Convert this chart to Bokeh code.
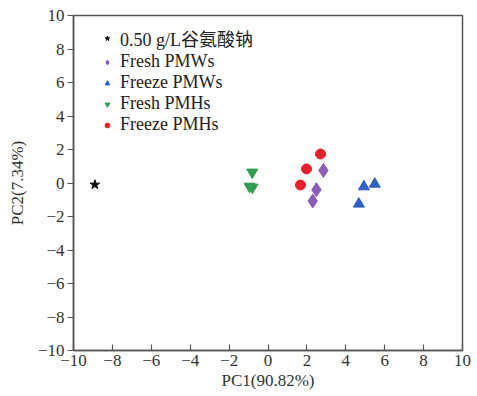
from bokeh.plotting import figure
from bokeh.models import FixedTicker, Range1d, Legend, LegendItem
from bokeh.embed import file_html
from bokeh.resources import INLINE

# Data
msg_x = [-8.9]
msg_y = [-0.1]
fresh_pmws_x = [2.85, 2.49, 2.30]
fresh_pmws_y = [0.75, -0.40, -1.07]
freeze_pmws_x = [4.93, 5.49, 4.67]
freeze_pmws_y = [-0.22, -0.06, -1.25]
fresh_pmhs_x = [-0.81, -0.95, -0.80]
fresh_pmhs_y = [0.64, -0.20, -0.26]
freeze_pmhs_x = [2.70, 1.98, 1.67]
freeze_pmhs_y = [1.73, 0.84, -0.12]

ticks = [-10, -8, -6, -4, -2, 0, 2, 4, 6, 8, 10]
tick_labels = {t: (("\u2212" + str(-t)) if t < 0 else str(t)) for t in ticks}

SERIF = "'Liberation Serif', 'Noto Sans CJK SC', serif"

p = figure(width=474, height=394, output_backend="svg", toolbar_location=None,
           x_range=Range1d(-10, 10), y_range=Range1d(-10, 10),
           min_border_left=73, min_border_right=12, min_border_top=15, min_border_bottom=44)
p.grid.visible = False
p.outline_line_color = "#555555"
p.outline_line_width = 1.5

for ax in (p.xaxis[0], p.yaxis[0]):
    ax.ticker = FixedTicker(ticks=ticks)
    ax.major_label_overrides = tick_labels
    ax.minor_tick_line_color = None
    ax.axis_line_color = "#555555"
    ax.axis_line_width = 1.5
    ax.major_tick_line_color = "#555555"
    ax.major_tick_line_width = 1.2
    ax.major_label_text_font = SERIF
    ax.major_label_text_font_size = "17px"
    ax.major_label_text_color = "#333333"
    ax.axis_label_text_font = SERIF
    ax.axis_label_text_font_size = "17px"
    ax.axis_label_text_font_style = "normal"
    ax.axis_label_text_color = "#333333"

p.xaxis.axis_label = "PC1(90.82%)"
p.yaxis.axis_label = "PC2(7.34%)"
p.xaxis.major_tick_in = 6
p.xaxis.major_tick_out = 0
p.yaxis.major_tick_in = 0
p.yaxis.major_tick_out = 6
p.xaxis.major_label_standoff = 4
p.xaxis.axis_label_standoff = 2
p.yaxis.major_label_standoff = 3
p.yaxis.axis_label_standoff = 8

r1 = p.scatter(msg_x, msg_y, marker="star", size=10, color="#111111")
r2 = p.scatter(fresh_pmws_x, fresh_pmws_y, marker="diamond", size=14, color="#8A5CB8")
r3 = p.scatter(freeze_pmws_x, freeze_pmws_y, marker="triangle", size=11, color="#2F5FC8")
r4 = p.scatter(fresh_pmhs_x, fresh_pmhs_y, marker="inverted_triangle", size=11, color="#2E9E50")
r5 = p.scatter(freeze_pmhs_x, freeze_pmhs_y, marker="circle", size=10, color="#E8202E")

legend = Legend(items=[
    LegendItem(label="0.50 g/L谷氨酸钠", renderers=[r1]),
    LegendItem(label="Fresh PMWs", renderers=[r2]),
    LegendItem(label="Freeze PMWs", renderers=[r3]),
    LegendItem(label="Fresh PMHs", renderers=[r4]),
    LegendItem(label="Freeze PMHs", renderers=[r5]),
])
legend.border_line_color = None
legend.background_fill_alpha = 0
legend.label_text_font = SERIF
legend.label_text_font_size = "18px"
legend.label_text_color = "#222222"
legend.glyph_width = 12
legend.glyph_height = 18
legend.label_height = 18
legend.spacing = 0
legend.label_standoff = 7
legend.margin = 0
legend.padding = 0
legend.location = (28, 215)
p.add_layout(legend)

open("out.html", "w").write(file_html(p, INLINE))
